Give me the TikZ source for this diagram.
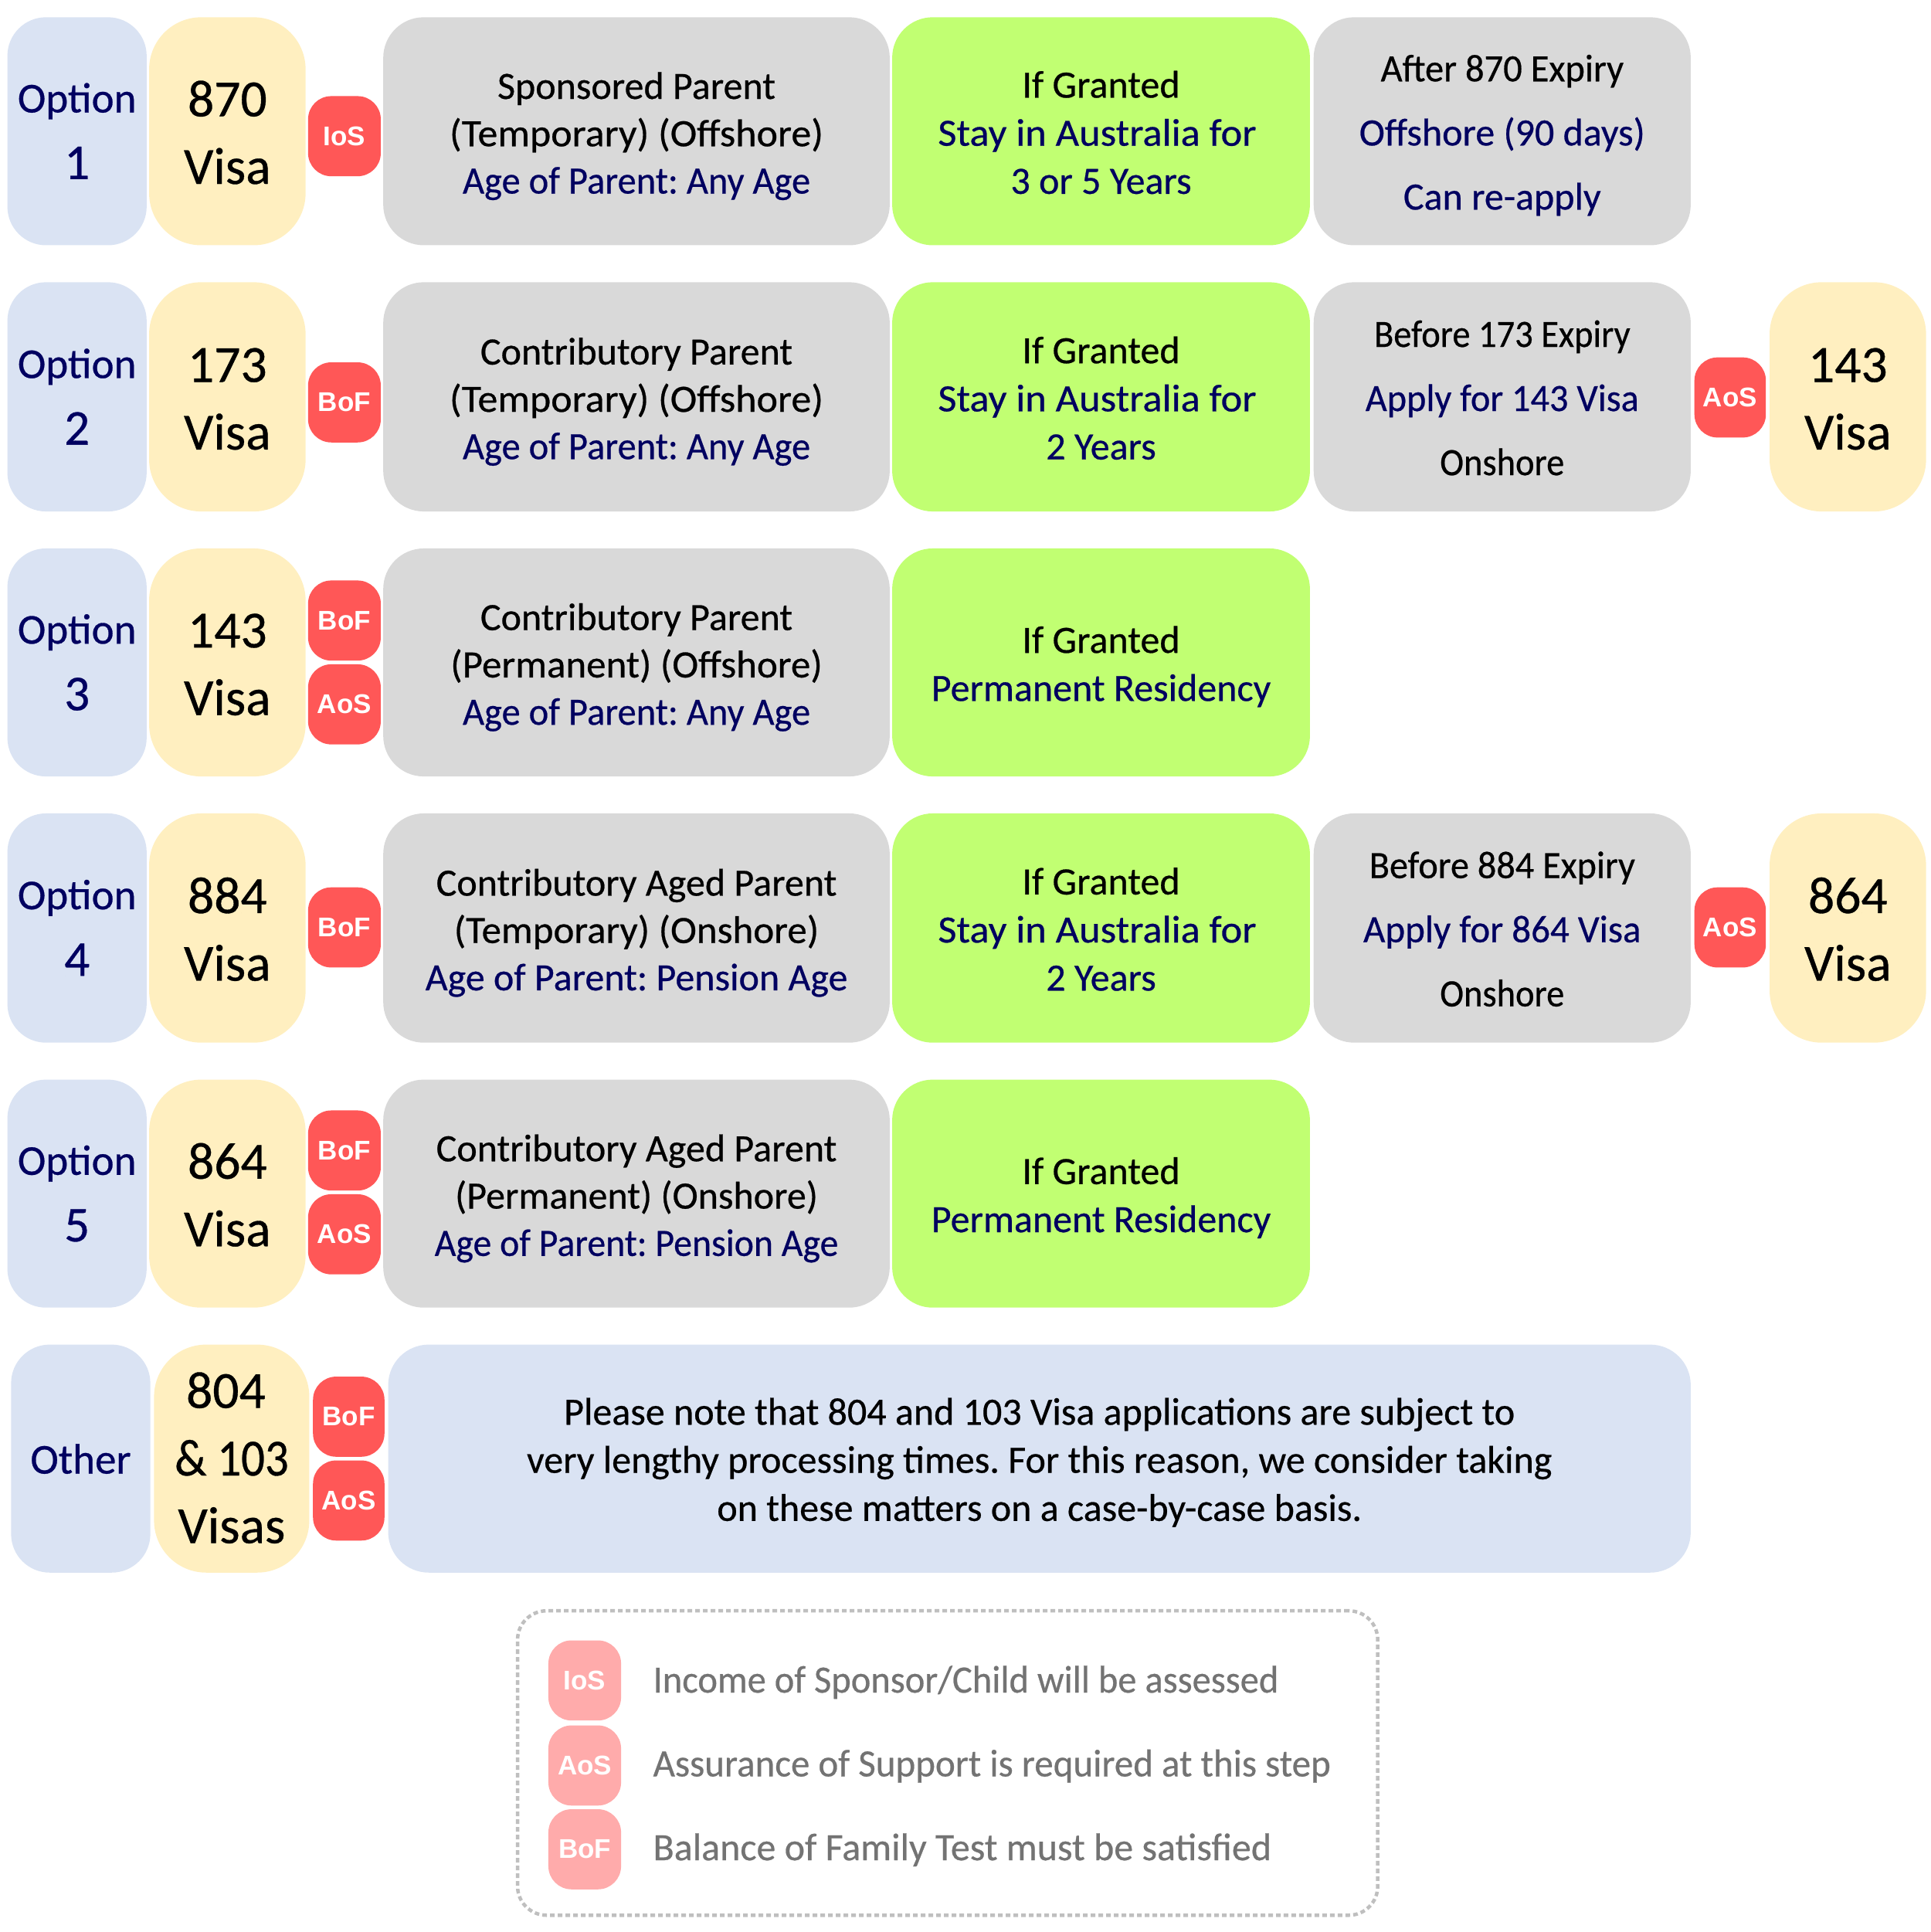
\documentclass[tikz,border=0pt]{standalone}
\usepackage{fontspec}
\setmainfont{Carlito}[FakeBold=0.5]
\newfontfamily\badgefont{Liberation Sans}
\frenchspacing
\definecolor{nav}{HTML}{000060}
\definecolor{cblue}{HTML}{DAE3F3}
\definecolor{cyel}{HTML}{FFEFC0}
\definecolor{cgray}{HTML}{D9D9D9}
\definecolor{cgreen}{HTML}{C1FF72}
\definecolor{cred}{HTML}{FF5757}
\definecolor{cpink}{HTML}{FFABAB}
\definecolor{ctxt}{HTML}{737373}
\definecolor{cdash}{HTML}{BFBFBF}
\newcommand\U{0.6382pt}
\newcommand\bx[7]{\node[#6,minimum width={(#4-#2)*\U},minimum height={(#5-#3)*\U}] (#1) at ({(#2+#4)/2},{(#3+#5)/2}) {#7};}
\newcommand\nv[1]{\textcolor{nav}{#1}}
\newcommand\hs[2]{\scalebox{#1}[1]{#2}}
\newcommand\dg[1]{\fontsize{26}{34.5}\selectfont #1}
\newcommand\stay{\nv{\hs{1.05}{Stay in Australia for}\kern4pt}}
\tikzset{
 base/.style={inner sep=0pt,outer sep=0pt,align=center,text=black},
 strutted/.style 2 args={execute at begin node={\rule{0pt}{#1}},execute at end node={\rule[-#2]{0pt}{#2}}},
 optcommon/.style={base,fill=cblue,rounded corners=20pt,text=nav,font=\fontsize{22}{34.5}\selectfont},
 optbox/.style={optcommon,strutted={60.5pt}{11pt}},
 otherbox/.style={optcommon,strutted={26.5pt}{11pt}},
 visacommon/.style={base,fill=cyel,rounded corners=27pt,font=\fontsize{27}{35}\selectfont},
 visabox/.style={visacommon,strutted={65.5pt}{11pt}},
 tallvisa/.style={visacommon,strutted={98.5pt}{11pt}},
 mainbox/.style={base,fill=cgray,rounded corners=21pt,font=\fontsize{20}{24.5}\selectfont,strutted={72pt}{7.5pt}},
 grantcommon/.style={base,fill=cgreen,rounded corners=21pt,font=\fontsize{20}{24.9}\selectfont},
 grantbox/.style={grantcommon,strutted={72.3pt}{7.5pt}},
 granttwo/.style={grantcommon,strutted={47.4pt}{7.5pt}},
 afterbox/.style={base,fill=cgray,rounded corners=21pt,font=\fontsize{20}{33.2}\selectfont,strutted={88.6pt}{7.5pt}},
 notebox/.style={base,fill=cblue,rounded corners=21pt,font=\fontsize{20}{24.9}\selectfont,strutted={72pt}{7.5pt}},
 badge/.style={base,fill=cred,rounded corners=12pt,text=white,font=\badgefont\bfseries\fontsize{14}{16}\selectfont},
 pinkbadge/.style={badge,fill=cpink},
 legendbox/.style={base,draw=cdash,dash pattern=on 2.4pt off 1.6pt,line width=1.8pt,rounded corners=15pt},
 legendtext/.style={inner sep=0pt,outer sep=0pt,anchor=west,text=ctxt,font=\fontsize{20}{24}\selectfont},
}
\begin{document}
\begin{tikzpicture}[x=0.6382pt,y=-0.6382pt]
\useasboundingbox (0,0) rectangle (1567,1567.63);
% Row 1
\bx{o1}{6}{14}{119}{199}{optbox}{Option\\\dg{1}}
\bx{v1}{121}{14}{248}{199}{visabox}{870\\Visa}
\bx{b1}{250}{78}{309}{143}{badge}{IoS}
\bx{m1}{311}{14}{722}{199}{mainbox}{Sponsored Parent\\\hs{1.04}{(Temporary) (Offshore)}\\\nv{\hs{0.97}{Age of Parent: Any Age}}}
\bx{g1}{724}{14}{1063}{199}{grantbox}{If Granted\\\stay\\\nv{3 or 5 Years}}
\bx{a1}{1066}{14}{1372}{199}{afterbox}{\hs{0.97}{After 870 Expiry}\\\nv{Offshore (90 days)}\\\nv{Can re-apply}}
% Row 2
\bx{o2}{6}{229}{119}{415}{optbox}{Option\\\dg{2}}
\bx{v2}{121}{229}{248}{415}{visabox}{173\\Visa}
\bx{b2}{250}{294}{309}{359}{badge}{BoF}
\bx{m2}{311}{229}{722}{415}{mainbox}{Contributory Parent\\\hs{1.04}{(Temporary) (Offshore)}\\\nv{\hs{0.97}{Age of Parent: Any Age}}}
\bx{g2}{724}{229}{1063}{415}{grantbox}{If Granted\\\stay\\\nv{2 Years}}
\bx{a2}{1066}{229}{1372}{415}{afterbox}{\hs{0.93}{Before 173 Expiry}\\\nv{\hs{0.965}{Apply for 143 Visa}}\\\hs{0.93}{Onshore}}
\bx{c2}{1375}{290}{1433}{355}{badge}{AoS}
\bx{w2}{1436}{229}{1563}{415}{visabox}{143\\Visa}
% Row 3
\bx{o3}{6}{445}{119}{630}{optbox}{Option\\\dg{3}}
\bx{v3}{121}{445}{248}{630}{visabox}{143\\Visa}
\bx{b3}{250}{471}{309}{536}{badge}{BoF}
\bx{c3}{250}{539}{309}{604}{badge}{AoS}
\bx{m3}{311}{445}{722}{630}{mainbox}{Contributory Parent\\\hs{1.02}{(Permanent) (Offshore)}\\\nv{\hs{0.97}{Age of Parent: Any Age}}}
\bx{g3}{724}{445}{1063}{630}{granttwo}{If Granted\\\nv{Permanent Residency}}
% Row 4
\bx{o4}{6}{660}{119}{846}{optbox}{Option\\\dg{4}}
\bx{v4}{121}{660}{248}{846}{visabox}{884\\Visa}
\bx{b4}{250}{720}{309}{785}{badge}{BoF}
\bx{m4}{311}{660}{722}{846}{mainbox}{Contributory Aged Parent\\\hs{1.02}{(Temporary) (Onshore)}\\\nv{Age of Parent: Pension Age}}
\bx{g4}{724}{660}{1063}{846}{grantbox}{If Granted\\\stay\\\nv{2 Years}}
\bx{a4}{1066}{660}{1372}{846}{afterbox}{\hs{0.965}{Before 884 Expiry}\\\nv{\hs{0.98}{Apply for 864 Visa}}\\\hs{0.93}{Onshore}}
\bx{c4}{1375}{720}{1433}{785}{badge}{AoS}
\bx{w4}{1436}{660}{1563}{846}{visabox}{864\\Visa}
% Row 5
\bx{o5}{6}{876}{119}{1061}{optbox}{Option\\\dg{5}}
\bx{v5}{121}{876}{248}{1061}{visabox}{864\\Visa}
\bx{b5}{250}{901}{309}{966}{badge}{BoF}
\bx{c5}{250}{969}{309}{1034}{badge}{AoS}
\bx{m5}{311}{876}{722}{1061}{mainbox}{Contributory Aged Parent\\(Permanent) (Onshore)\\\nv{\hs{0.956}{Age of Parent: Pension Age}}}
\bx{g5}{724}{876}{1063}{1061}{granttwo}{If Granted\\\nv{Permanent Residency}}
% Other
\bx{o6}{9}{1091}{122}{1276}{otherbox}{Other}
\bx{v6}{125}{1091}{251}{1276}{tallvisa}{804\kern6pt\\\hs{0.9}{\& 103}\\Visas}
\bx{b6}{254}{1117}{312}{1182}{badge}{BoF}
\bx{c6}{254}{1185}{312}{1250}{badge}{AoS}
\bx{n6}{315}{1091}{1372}{1276}{notebox}{Please note that 804 and 103 Visa applications are subject to\\very lengthy processing times. For this reason, we consider taking\\on these matters on a case-by-case basis.}
% Legend
\bx{lg}{420}{1307}{1118}{1554}{legendbox}{}
\bx{l1}{445}{1331}{504}{1396}{pinkbadge}{IoS}
\bx{l2}{445}{1400}{504}{1465}{pinkbadge}{AoS}
\bx{l3}{445}{1468}{504}{1533}{pinkbadge}{BoF}
\node[legendtext] (t1) at (530,1365) {\hs{0.97}{Income of Sponsor/Child will be assessed}};
\node[legendtext] (t2) at (530,1433) {\hs{0.98}{Assurance of Support is required at this step}};
\node[legendtext] (t3) at (530,1501) {Balance of Family Test must be satisfied};
\end{tikzpicture}
\end{document}
